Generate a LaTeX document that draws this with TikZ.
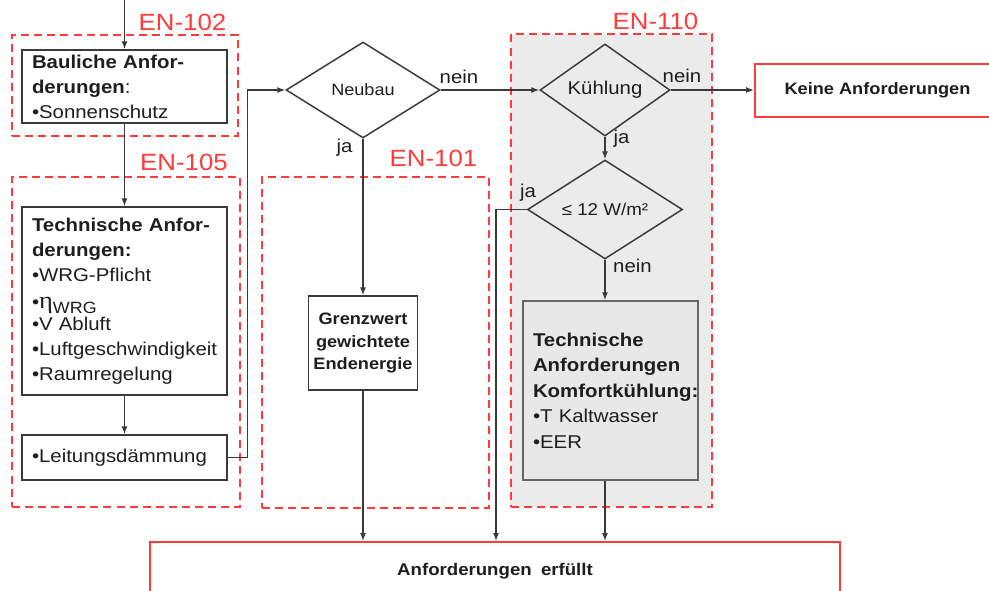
\documentclass[tikz,border=0pt]{standalone}
\usepackage{fontspec}
\setmainfont{Liberation Sans}[FakeStretch=1.1]
\newfontfamily\etafont{Liberation Serif}[FakeStretch=1.1]
\usetikzlibrary{arrows.meta,shapes.geometric}
\definecolor{enred}{HTML}{FF3B3B}
\definecolor{linegray}{HTML}{3A3A3A}
\definecolor{boxgray}{HTML}{EBEBEB}
\definecolor{komfgray}{HTML}{E8E8E8}
\definecolor{txt}{HTML}{1E1E1E}
\def\px{0.75pt}
\newcommand{\fbody}{\fontsize{13.9}{18.75}\selectfont}
\newcommand{\fen}{\fontsize{17.6}{20}\selectfont}
\newcommand{\fgrenz}{\fontsize{12.4}{16.9}\selectfont}
\begin{document}
\begin{tikzpicture}[x=0.75pt,y=-0.75pt,
  font=\fbody, text=txt,
  box/.style={draw=linegray, line width=1.1pt, rectangle, inner sep=0pt},
  leftbox/.style={box, align=left, text width=185*\px, inner xsep=10*\px},
  dia/.style={draw=linegray, line width=1.1pt, diamond, inner sep=0pt},
  enbox/.style={draw=enred, line width=1.5pt, dash pattern=on 6pt off 3.8pt, rectangle, inner sep=0pt},
  redbox/.style={draw=enred, line width=1.5pt, rectangle, inner sep=0pt},
  enlabel/.style={text=enred, font=\fen, inner sep=0pt},
  lbl/.style={font=\fbody, inner sep=0pt},
  arr/.style={draw=linegray, line width=1pt, -{Latex[length=6pt,width=4.5pt]}},
  ln/.style={draw=linegray, line width=1pt}]
\useasboundingbox (0,0) rectangle (989,590);
\clip (0,0) rectangle (989,590);
\fill[white] (0,0) rectangle (989,590);

% group boxes
\node[enbox, fill=boxgray, minimum width=201*\px, minimum height=473*\px] (en110box) at (611.5,270.5) {};
\node[enbox, minimum width=226*\px, minimum height=101*\px] (en102box) at (125,85.5) {};
\node[enbox, minimum width=228*\px, minimum height=330*\px] (en105box) at (126,342) {};
\node[enbox, minimum width=227*\px, minimum height=331*\px] (en101box) at (375.5,342.5) {};

\node[enlabel] (en102) at (182.5,22) {EN-102};
\node[enlabel] (en105) at (184,162) {EN-105};
\node[enlabel] (en101) at (433.5,158) {EN-101};
\node[enlabel] (en110) at (655.5,21) {EN-110};

% boxes
\node[leftbox, fill=white, minimum height=73*\px] (baul) at (124.5,86.5)
  {\textbf{Bauliche Anfor-}\\\textbf{derungen}:\\•Sonnenschutz};
\node[leftbox, fill=white, minimum height=188*\px] (tech) at (124.5,301)
  {\textbf{Technische Anfor-}\\\textbf{derungen:}\\•WRG-Pflicht\\[1.5pt]•{\etafont\fontsize{18}{18}\selectfont η}\raisebox{-0.5ex}{\fontsize{12.2}{14}\selectfont WRG}\\[-2pt]•V Abluft\\•Luftgeschwindigkeit\\•Raumregelung};
\node[leftbox, fill=white, minimum height=45*\px] (leit) at (124.5,457.5)
  {•Leitungsdämmung};

\node[dia, fill=white, minimum width=154*\px, minimum height=96*\px, font=\fontsize{12.3}{14}\selectfont] (neubau) at (363,90) {Neubau};
\node[box, fill=white, align=center, font=\fgrenz\bfseries, minimum width=109*\px, minimum height=94*\px] (grenz) at (363,343)
  {Grenzwert\\gewichtete\\Endenergie};

\node[dia, minimum width=130*\px, minimum height=81*\px, font=\fbody] (kuehl) at (605,90) {Kühlung};
\node[dia, minimum width=155*\px, minimum height=95*\px, font=\fontsize{12.8}{14}\selectfont] (le12) at (605,209.5) {≤ 12 W/m²};
\node[leftbox, draw=gray!80!black, fill=komfgray, text width=155*\px, minimum height=179*\px, font=\fontsize{13.9}{19.1}\selectfont] (komf) at (610.5,390.5)
  {\textbf{Technische}\\\textbf{Anforderungen}\\\textbf{Komfortkühlung:}\\•T Kaltwasser\\•EER};

\node[redbox, fill=white, minimum width=245*\px, minimum height=53*\px, font=\fontsize{12.4}{14}\selectfont\bfseries] (keine) at (877.5,90.5) {Keine Anforderungen};
\node[redbox, fill=white, minimum width=690*\px, minimum height=58*\px, font=\fontsize{12.7}{14}\selectfont\bfseries] (bottom) at (495,571) {Anforderungen\hspace{0.55em}erfüllt};

% connector labels
\node[lbl] (n1) at (459,77) {nein};
\node[lbl] (j1) at (344.5,148) {ja};
\node[lbl] (n2) at (682,76) {nein};
\node[lbl] (j2) at (621.5,139) {ja};
\node[lbl] (j3) at (528,193) {ja};
\node[lbl] (n3) at (632.5,266) {nein};

% connectors
\coordinate (start) at (124.5,0);
\coordinate (jadrop) at (496,0);
\draw[arr] (start) -- (baul.north);
\draw[arr] (baul.south) -- (tech.north);
\draw[arr] (tech.south) -- (leit.north);
\draw[arr] (leit.east) -- ++(20,0) |- (neubau.west);
\draw[arr] (neubau.east) -- (kuehl.west);
\draw[arr] (neubau.south) -- (neubau.south |- grenz.north);
\draw[arr] (grenz.south) -- (grenz.south |- bottom.north);
\draw[arr] (kuehl.east) -- (kuehl.east -| keine.west);
\draw[arr] (kuehl.south) -- (le12.north);
\draw[arr] (le12.south) -- (le12.south |- komf.north);
\draw[arr] (le12.south |- komf.south) -- (le12.south |- bottom.north);
\draw[arr] (le12.west) -| (jadrop |- bottom.north);
\end{tikzpicture}
\end{document}
